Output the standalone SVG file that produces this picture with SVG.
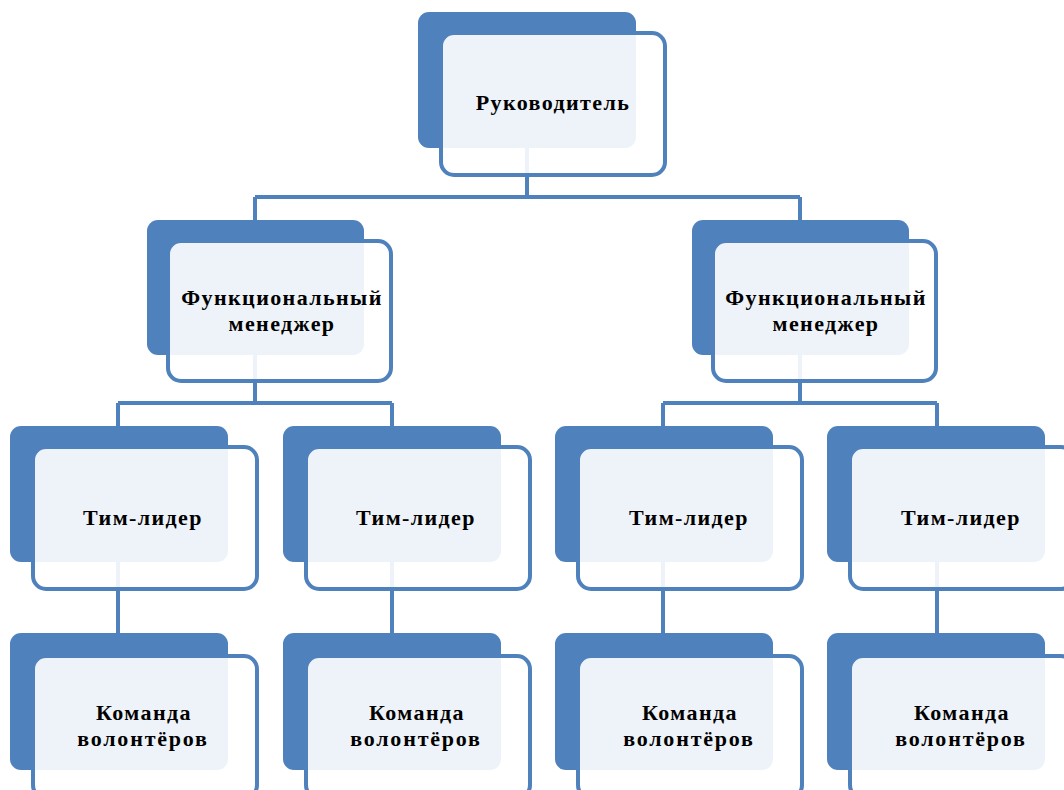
<svg xmlns="http://www.w3.org/2000/svg" width="1064" height="790" viewBox="0 0 1064 790">
<style>
.back{fill:#4F81BD}
.front{fill:#FFFFFF;fill-opacity:0.9;stroke:#4F81BD;stroke-width:4}
.conn{fill:none;stroke:#4F81BD;stroke-width:4}
text{font-family:"Liberation Serif","Times New Roman",serif;font-weight:bold;font-size:22px;fill:#000;text-anchor:middle;letter-spacing:1.4px}
.sp{letter-spacing:1.8px}
</style>
<rect width="1064" height="790" fill="#FFFFFF"/>
<g id="connectors">
<path class="conn" d="M527,148 V197 M255,197 H800 M255,197 V220 M800,197 V220"/>
<path class="conn" d="M255,355 V403 M118,403 H392 M118,403 V426 M392,403 V426"/>
<path class="conn" d="M800,355 V403 M663,403 H937 M663,403 V426 M937,403 V426"/>
<path class="conn" d="M118,562 V633 M392,562 V633 M663,562 V633 M937,562 V633"/>
</g>
<g id="n-head">
<rect class="back" x="418" y="12" width="218" height="136" rx="11"/>
<rect class="front" x="441" y="33" width="224" height="142" rx="13"/>
<text x="553" y="110">Руководитель</text>
</g>
<g id="n-fm1">
<rect class="back" x="147" y="220" width="217" height="135" rx="11"/>
<rect class="front" x="168" y="241" width="223" height="140" rx="13"/>
<text x="282" y="305">Функциональный</text>
<text x="282" y="331">менеджер</text>
</g>
<g id="n-fm2">
<rect class="back" x="692" y="220" width="217" height="135" rx="11"/>
<rect class="front" x="713" y="241" width="223" height="140" rx="13"/>
<text x="826" y="305">Функциональный</text>
<text x="826" y="331">менеджер</text>
</g>
<g id="n-tl1">
<rect class="back" x="10" y="426" width="218" height="136" rx="11"/>
<rect class="front" x="33" y="447" width="224" height="142" rx="13"/>
<text x="143" y="525">Тим-лидер</text>
</g>
<g id="n-tl2">
<rect class="back" x="283" y="426" width="218" height="136" rx="11"/>
<rect class="front" x="306" y="447" width="224" height="142" rx="13"/>
<text x="416" y="525">Тим-лидер</text>
</g>
<g id="n-tl3">
<rect class="back" x="555" y="426" width="218" height="136" rx="11"/>
<rect class="front" x="578" y="447" width="224" height="142" rx="13"/>
<text x="689" y="525">Тим-лидер</text>
</g>
<g id="n-tl4">
<rect class="back" x="827" y="426" width="218" height="136" rx="11"/>
<rect class="front" x="850" y="447" width="224" height="142" rx="13"/>
<text x="961" y="525">Тим-лидер</text>
</g>
<g id="n-vt1">
<rect class="back" x="10" y="633" width="218" height="137" rx="11"/>
<rect class="front" x="33" y="656" width="224" height="142" rx="13"/>
<text x="144" y="720">Команда</text>
<text class="sp" x="143" y="746">волонтёров</text>
</g>
<g id="n-vt2">
<rect class="back" x="283" y="633" width="218" height="137" rx="11"/>
<rect class="front" x="306" y="656" width="224" height="142" rx="13"/>
<text x="417" y="720">Команда</text>
<text class="sp" x="416" y="746">волонтёров</text>
</g>
<g id="n-vt3">
<rect class="back" x="555" y="633" width="218" height="137" rx="11"/>
<rect class="front" x="578" y="656" width="224" height="142" rx="13"/>
<text x="690" y="720">Команда</text>
<text class="sp" x="689" y="746">волонтёров</text>
</g>
<g id="n-vt4">
<rect class="back" x="827" y="633" width="218" height="137" rx="11"/>
<rect class="front" x="850" y="656" width="224" height="142" rx="13"/>
<text x="962" y="720">Команда</text>
<text class="sp" x="961" y="746">волонтёров</text>
</g>
</svg>
